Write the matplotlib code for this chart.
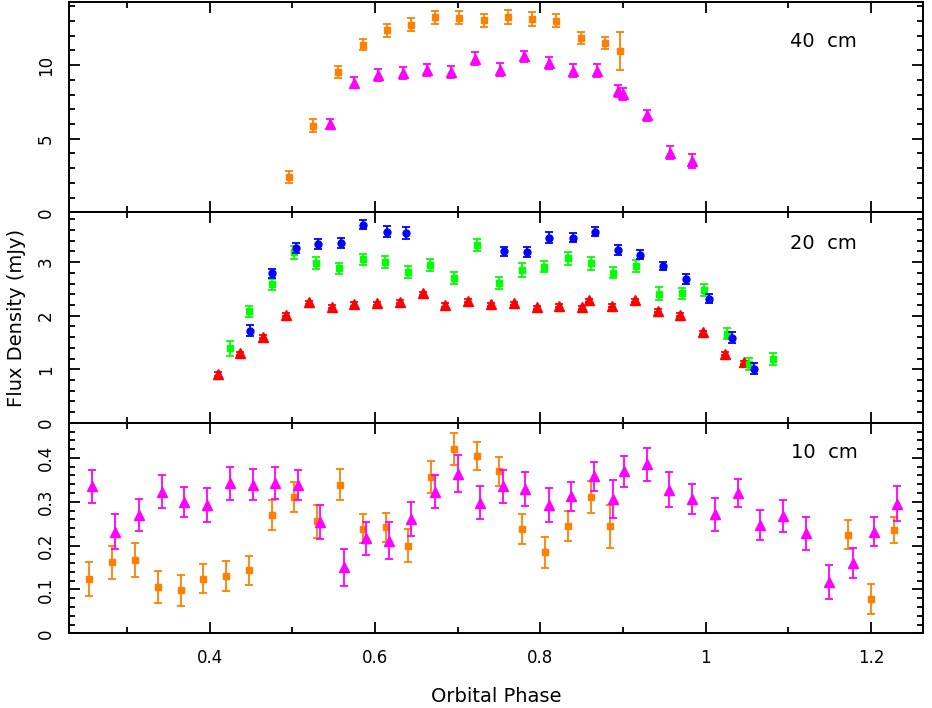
import matplotlib
matplotlib.use('Agg')
import matplotlib.pyplot as plt
from matplotlib.ticker import MultipleLocator, FormatStrFormatter

plt.rcParams['font.family'] = ['DejaVu Sans']

# ---------------- 40 cm ----------------
c40_sq_x = [0.496, 0.525, 0.555, 0.585, 0.614, 0.643, 0.673, 0.702, 0.732, 0.761, 0.790, 0.819, 0.849, 0.878, 0.896]
c40_sq_y = [2.43, 5.89, 9.52, 11.38, 12.36, 12.75, 13.25, 13.23, 13.05, 13.27, 13.14, 13.02, 11.86, 11.50, 10.95]
c40_sq_e = [0.41, 0.45, 0.40, 0.37, 0.44, 0.45, 0.43, 0.42, 0.44, 0.49, 0.47, 0.42, 0.41, 0.39, 1.30]

c40_tr_x = [0.545, 0.575, 0.604, 0.634, 0.663, 0.692, 0.721, 0.751, 0.780, 0.810, 0.839, 0.868, 0.894, 0.900, 0.929, 0.957, 0.983]
c40_tr_y = [6.00, 8.82, 9.35, 9.48, 9.65, 9.53, 10.44, 9.70, 10.59, 10.16, 9.62, 9.61, 8.25, 8.05, 6.58, 4.05, 3.48]
c40_tr_e = [0.36, 0.39, 0.40, 0.39, 0.40, 0.40, 0.42, 0.43, 0.39, 0.41, 0.44, 0.45, 0.40, 0.40, 0.40, 0.43, 0.45]

# ---------------- 20 cm ----------------
c20_bl_x = [0.449, 0.476, 0.504, 0.531, 0.559, 0.586, 0.614, 0.637, 0.756, 0.784, 0.811, 0.839, 0.866, 0.894, 0.921, 0.949, 0.976, 1.004, 1.032, 1.059]
c20_bl_y = [1.72, 2.79, 3.26, 3.34, 3.36, 3.70, 3.57, 3.55, 3.20, 3.19, 3.46, 3.46, 3.57, 3.23, 3.14, 2.93, 2.68, 2.32, 1.59, 1.01]
c20_bl_e = [0.10, 0.09, 0.09, 0.09, 0.09, 0.09, 0.10, 0.11, 0.09, 0.10, 0.10, 0.09, 0.09, 0.09, 0.08, 0.08, 0.09, 0.09, 0.10, 0.10]

c20_gr_x = [0.424, 0.447, 0.475, 0.502, 0.529, 0.557, 0.585, 0.612, 0.640, 0.667, 0.695, 0.723, 0.750, 0.778, 0.805, 0.833, 0.861, 0.888, 0.916, 0.943, 0.971, 0.998, 1.026, 1.053, 1.081]
c20_gr_y = [1.39, 2.08, 2.59, 3.18, 2.98, 2.89, 3.05, 3.01, 2.82, 2.95, 2.70, 3.32, 2.61, 2.85, 2.91, 3.07, 2.98, 2.80, 2.92, 2.41, 2.42, 2.48, 1.66, 1.10, 1.19]
c20_gr_e = [0.14, 0.106, 0.103, 0.115, 0.109, 0.103, 0.109, 0.112, 0.109, 0.112, 0.115, 0.112, 0.112, 0.125, 0.103, 0.115, 0.125, 0.103, 0.112, 0.125, 0.106, 0.112, 0.103, 0.106, 0.106]

c20_rd_x = [0.410, 0.437, 0.464, 0.492, 0.520, 0.548, 0.575, 0.603, 0.630, 0.658, 0.685, 0.713, 0.740, 0.768, 0.796, 0.823, 0.850, 0.859, 0.887, 0.915, 0.942, 0.969, 0.997, 1.024, 1.046]
c20_rd_y = [0.91, 1.30, 1.61, 2.02, 2.25, 2.17, 2.22, 2.23, 2.26, 2.42, 2.20, 2.28, 2.21, 2.23, 2.16, 2.19, 2.16, 2.29, 2.19, 2.29, 2.09, 2.02, 1.69, 1.29, 1.13]
c20_rd_e = [0.03] * 25

# ---------------- 10 cm ----------------
c10_sq_x = [0.254, 0.282, 0.310, 0.337, 0.365, 0.392, 0.420, 0.447, 0.475, 0.502, 0.530, 0.558, 0.585, 0.613, 0.640, 0.668, 0.696, 0.723, 0.750, 0.778, 0.806, 0.833, 0.861, 0.884, 1.172, 1.200, 1.228]
c10_sq_y = [0.124, 0.162, 0.168, 0.106, 0.098, 0.124, 0.130, 0.144, 0.269, 0.310, 0.255, 0.339, 0.238, 0.242, 0.200, 0.357, 0.420, 0.405, 0.370, 0.238, 0.185, 0.245, 0.311, 0.244, 0.225, 0.079, 0.235]
c10_sq_e = [0.038, 0.0375, 0.039, 0.036, 0.035, 0.033, 0.034, 0.033, 0.034, 0.034, 0.0375, 0.035, 0.033, 0.033, 0.038, 0.036, 0.037, 0.032, 0.033, 0.034, 0.035, 0.035, 0.037, 0.049, 0.033, 0.034, 0.030]

c10_tr_x = [0.258, 0.286, 0.314, 0.342, 0.369, 0.397, 0.425, 0.452, 0.479, 0.507, 0.534, 0.562, 0.589, 0.617, 0.644, 0.672, 0.700, 0.727, 0.755, 0.782, 0.810, 0.837, 0.865, 0.888, 0.901, 0.929, 0.956, 0.984, 1.011, 1.039, 1.066, 1.094, 1.122, 1.149, 1.178, 1.204, 1.232]
c10_tr_y = [0.335, 0.232, 0.270, 0.323, 0.299, 0.292, 0.342, 0.339, 0.343, 0.339, 0.254, 0.151, 0.217, 0.211, 0.261, 0.323, 0.364, 0.298, 0.335, 0.329, 0.292, 0.312, 0.358, 0.306, 0.369, 0.385, 0.327, 0.307, 0.271, 0.320, 0.247, 0.268, 0.228, 0.117, 0.160, 0.232, 0.295]
c10_tr_e = [0.038, 0.040, 0.036, 0.0375, 0.034, 0.039, 0.037, 0.036, 0.036, 0.034, 0.039, 0.042, 0.0375, 0.042, 0.038, 0.0375, 0.042, 0.037, 0.037, 0.038, 0.039, 0.034, 0.033, 0.044, 0.036, 0.038, 0.040, 0.034, 0.037, 0.032, 0.035, 0.036, 0.037, 0.038, 0.034, 0.033, 0.040]

ORANGE = '#ff8000'
MAGENTA = '#ff00ff'
BLUE = '#0000ff'
GREEN = '#00ff00'
RED = '#ff0000'

fig = plt.figure(figsize=(9.32, 7.08), dpi=100)
L = 69 / 932
W = (923 - 69) / 932
H = 0.2973
ax1 = fig.add_axes([L, 0.7001, W, H])
ax2 = fig.add_axes([L, 0.4028, W, H], sharex=ax1)
ax3 = fig.add_axes([L, 0.1055, W, H], sharex=ax1)


def eb(ax, x, y, e, color, marker, ms, z):
    ax.errorbar(x, y, yerr=e, fmt=marker, color=color, ecolor=color,
                mfc=color, mec=color, ms=ms, elinewidth=1.3, capsize=2.6,
                capthick=1.3, zorder=z)


eb(ax1, c40_sq_x, c40_sq_y, c40_sq_e, ORANGE, 's', 4.0, 3)
eb(ax1, c40_tr_x, c40_tr_y, c40_tr_e, MAGENTA, '^', 6.5, 4)

eb(ax2, c20_rd_x, c20_rd_y, c20_rd_e, RED, '^', 6.5, 3)
eb(ax2, c20_gr_x, c20_gr_y, c20_gr_e, GREEN, 's', 4.3, 4)
eb(ax2, c20_bl_x, c20_bl_y, c20_bl_e, BLUE, 'o', 5.0, 5)

eb(ax3, c10_sq_x, c10_sq_y, c10_sq_e, ORANGE, 's', 4.0, 3)
eb(ax3, c10_tr_x, c10_tr_y, c10_tr_e, MAGENTA, '^', 7.0, 4)

ax1.set_xlim(0.2298, 1.263)
ax1.set_ylim(0, 14.3)
ax2.set_ylim(0, 3.93)
ax3.set_ylim(0, 0.48)

ax1.yaxis.set_major_locator(MultipleLocator(5))
ax1.yaxis.set_minor_locator(MultipleLocator(1))
ax2.yaxis.set_major_locator(MultipleLocator(1))
ax2.yaxis.set_minor_locator(MultipleLocator(0.2))
ax3.yaxis.set_major_locator(MultipleLocator(0.1))
ax3.yaxis.set_minor_locator(MultipleLocator(0.02))
ax3.yaxis.set_major_formatter(FormatStrFormatter('%g'))
ax3.xaxis.set_major_locator(MultipleLocator(0.2))
ax3.xaxis.set_minor_locator(MultipleLocator(0.1))
ax3.xaxis.set_major_formatter(FormatStrFormatter('%g'))

for ax in (ax1, ax2, ax3):
    for sp in ax.spines.values():
        sp.set_linewidth(1.4)
    ax.tick_params(which='both', direction='in', top=True, right=True,
                   width=1.3, labelsize=12)
    ax.tick_params(which='major', length=8)
    ax.tick_params(which='minor', length=4)
    ax.tick_params(axis='y', labelrotation=90, pad=10)
    ax.tick_params(axis='x', pad=11)
    for lab in ax.get_yticklabels():
        lab.set_va('center')

for ax in (ax1, ax2):
    ax.tick_params(axis='x', labelbottom=False)

ax1.text(0.844, 0.81, '40  cm', transform=ax1.transAxes, va='center', ha='left', fontsize=14)
ax2.text(0.844, 0.85, '20  cm', transform=ax2.transAxes, va='center', ha='left', fontsize=14)
ax3.text(0.846, 0.86, '10  cm', transform=ax3.transAxes, va='center', ha='left', fontsize=14)

fig.text(0.018, (708 - 318) / 708, 'Flux Density (mJy)', rotation=90, va='center', ha='center', fontsize=14)
fig.text((69 + 923) / 2 / 932, 1 - 696 / 708, 'Orbital Phase', va='center', ha='center', fontsize=14)

fig.savefig('out.png', dpi=100)
